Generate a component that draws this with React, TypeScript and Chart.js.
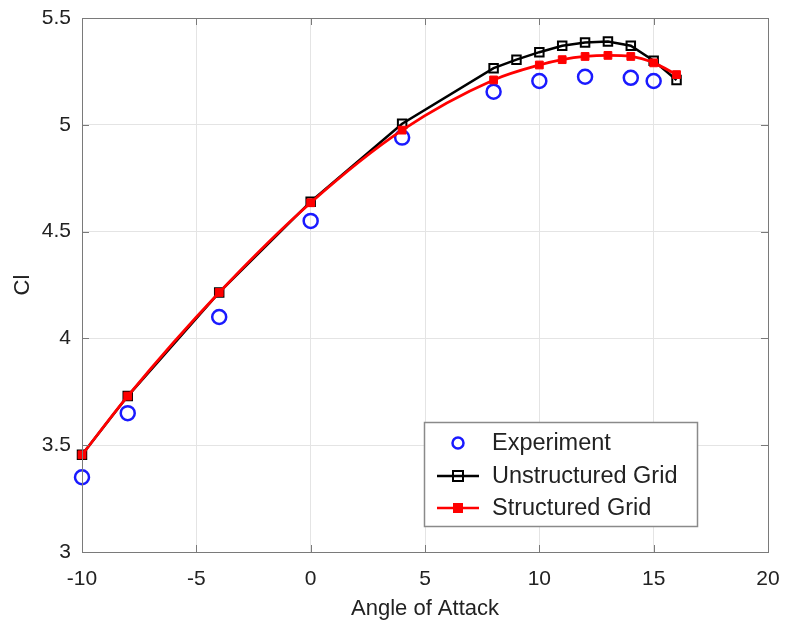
import React, { useEffect, useRef } from "react";
import { Chart, registerables } from "chart.js";

Chart.register(...registerables);

const expX = [-10, -8, -4, 0, 4, 8, 10, 12, 14, 15];
const expY = [3.35, 3.65, 4.1, 4.55, 4.94, 5.155, 5.205, 5.225, 5.22, 5.205];

const unsX = [-10, -8, -4, 0, 4, 8, 9, 10, 11, 12, 13, 14, 15, 16];
const unsY = [3.455, 3.73, 4.215, 4.64, 5.005, 5.265, 5.305, 5.34, 5.37, 5.385, 5.39, 5.37, 5.3, 5.21];

const strX = [-10, -8, -4, 0, 4, 8, 10, 11, 12, 13, 14, 15, 16];
const strY = [3.455, 3.73, 4.215, 4.635, 4.975, 5.21, 5.28, 5.305, 5.32, 5.325, 5.32, 5.29, 5.235];

const seriesNames = ["Experiment", "Unstructured Grid", "Structured Grid"];
const xTitle = "Angle of Attack";
const yTitle = "Cl";

const FONT = "'Liberation Sans', Arial, Helvetica, sans-serif";

const toPts = (xs: number[], ys: number[]) => xs.map((x, i) => ({ x, y: ys[i] }));

const framePlugin = {
  id: "frame",
  afterDraw(chart: any) {
    const { ctx, chartArea: a, scales } = chart;
    ctx.save();
    ctx.strokeStyle = "#7a7a7a";
    ctx.lineWidth = 1;
    const tl = 7;
    for (let v = -10; v <= 20; v += 5) {
      const px = Math.round(scales.x.getPixelForValue(v)) + 0.5;
      ctx.beginPath();
      ctx.moveTo(px, a.bottom);
      ctx.lineTo(px, a.bottom - tl);
      ctx.moveTo(px, a.top);
      ctx.lineTo(px, a.top + tl);
      ctx.stroke();
    }
    for (let v = 3; v <= 5.5; v += 0.5) {
      const py = Math.round(scales.y.getPixelForValue(v)) + 0.5;
      ctx.beginPath();
      ctx.moveTo(a.left, py);
      ctx.lineTo(a.left + tl, py);
      ctx.moveTo(a.right, py);
      ctx.lineTo(a.right - tl, py);
      ctx.stroke();
    }
    ctx.strokeRect(Math.round(a.left) + 0.5, Math.round(a.top) + 0.5, Math.round(a.right - a.left), Math.round(a.bottom - a.top));

    // legend
    const lx = 424, ly = 422, lw = 273, lh = 104;
    ctx.fillStyle = "#ffffff";
    ctx.fillRect(lx, ly, lw, lh);
    ctx.strokeStyle = "#8a8a8a";
    ctx.lineWidth = 1.5;
    ctx.strokeRect(lx + 0.5, ly + 0.5, lw, lh);
    const rows = [443, 476, 508];
    const mx = 458;
    ctx.font = `23.5px ${FONT}`;
    ctx.textBaseline = "middle";
    ctx.textAlign = "left";
    ctx.strokeStyle = "#1a1aff";
    ctx.lineWidth = 2.5;
    ctx.beginPath();
    ctx.arc(mx, rows[0], 5.5, 0, Math.PI * 2);
    ctx.stroke();
    ctx.strokeStyle = "#000000";
    ctx.lineWidth = 2.5;
    ctx.beginPath();
    ctx.moveTo(437, rows[1]);
    ctx.lineTo(479, rows[1]);
    ctx.stroke();
    ctx.lineWidth = 2;
    ctx.strokeRect(mx - 5, rows[1] - 5, 10, 10);
    ctx.strokeStyle = "#ff0000";
    ctx.lineWidth = 2.5;
    ctx.beginPath();
    ctx.moveTo(437, rows[2]);
    ctx.lineTo(479, rows[2]);
    ctx.stroke();
    ctx.fillStyle = "#ff0000";
    ctx.fillRect(mx - 5, rows[2] - 5, 10, 10);
    ctx.fillStyle = "#222222";
    seriesNames.forEach((n, i) => ctx.fillText(n, 492, rows[i] + 1));
    ctx.restore();
  },
};

export default function App() {
  const ref = useRef<HTMLCanvasElement | null>(null);
  useEffect(() => {
    document.body.style.margin = "0";
    const chart = new Chart(ref.current!, {
      type: "scatter",
      data: {
        datasets: [
          {
            label: seriesNames[2],
            data: toPts(strX, strY),
            showLine: true,
            borderColor: "#ff0000",
            backgroundColor: "#ff0000",
            borderWidth: 2.8,
            pointStyle: "rect",
            pointRadius: 5.5,
            pointBorderWidth: 1,
            cubicInterpolationMode: "monotone",
            clip: false,
            order: 1,
          },
          {
            label: seriesNames[1],
            data: toPts(unsX, unsY),
            showLine: true,
            borderColor: "#000000",
            backgroundColor: "rgba(0,0,0,0)",
            borderWidth: 2.5,
            pointStyle: "rect",
            pointRadius: 6,
            pointBorderWidth: 2,
            clip: false,
            order: 2,
          },
          {
            label: seriesNames[0],
            data: toPts(expX, expY),
            showLine: false,
            borderColor: "#1a1aff",
            backgroundColor: "rgba(0,0,0,0)",
            pointStyle: "circle",
            pointRadius: 7,
            pointBorderWidth: 2.5,
            clip: false,
            order: 3,
          },
        ],
      },
      options: {
        animation: false,
        responsive: false,
        maintainAspectRatio: false,
        layout: { padding: { top: 18, right: 19, left: 0, bottom: 0 } },
        plugins: { legend: { display: false }, tooltip: { enabled: false } },
        scales: {
          x: {
            type: "linear",
            min: -10,
            max: 20,
            ticks: { stepSize: 5, color: "#222", font: { family: FONT, size: 21 }, padding: 15, callback: (v: any) => String(v) },
            grid: { color: "#e4e4e4", drawTicks: false },
            border: { display: false },
            title: { display: true, text: xTitle, color: "#222", font: { family: FONT, size: 22 }, padding: { top: 0, bottom: 8 } },
            afterFit: (s: any) => { s.height = 78; s.paddingLeft = 0; s.paddingRight = 0; },
          },
          y: {
            type: "linear",
            min: 3,
            max: 5.5,
            ticks: { stepSize: 0.5, color: "#222", font: { family: FONT, size: 21 }, padding: 11, callback: (v: any) => String(v) },
            grid: { color: "#e4e4e4", drawTicks: false },
            border: { display: false },
            title: { display: true, text: yTitle, color: "#222", font: { family: FONT, size: 22 }, padding: { top: 10, bottom: 0 } },
            afterFit: (s: any) => { s.width = 82; s.paddingTop = 0; s.paddingBottom = 0; },
          },
        },
      } as any,
      plugins: [framePlugin],
    });
    return () => chart.destroy();
  }, []);
  return (
    <div style={{ width: 787, height: 630, background: "#fff" }}>
      <canvas ref={ref} width={787} height={630} style={{ display: "block" }} />
    </div>
  );
}
